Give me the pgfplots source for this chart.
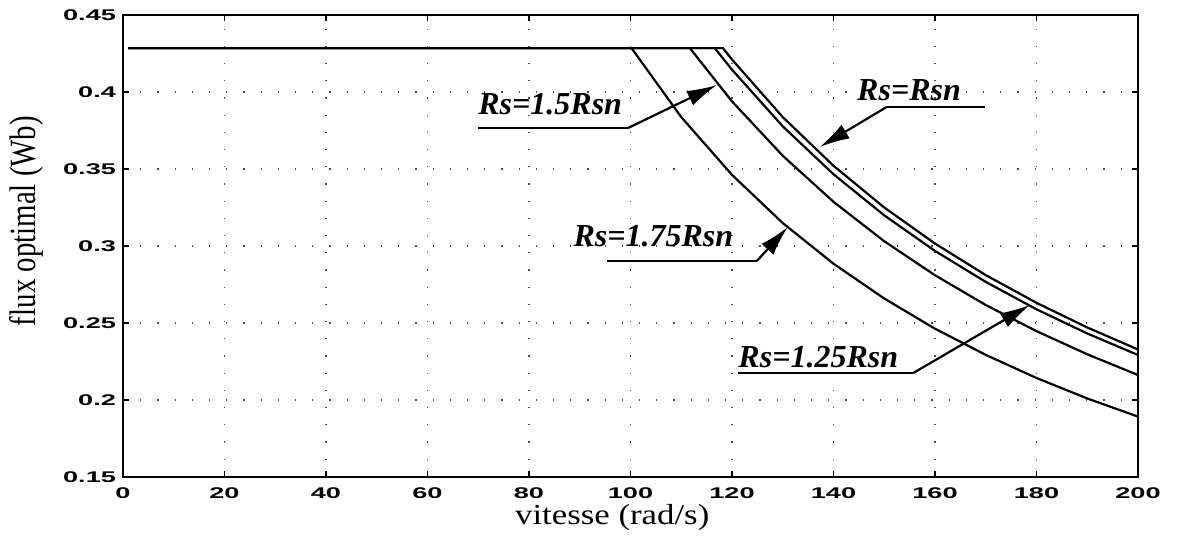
\documentclass[border=0pt]{standalone}
\usepackage{fontspec}
\setmainfont{Liberation Serif}
\newfontfamily\tickfont{Liberation Sans}[FakeStretch=1.75]
\newfontfamily\xlabfont{Liberation Serif}[FakeStretch=1.2]
\newfontfamily\ylabfont{Liberation Serif}[FakeStretch=0.78]
\usepackage{pgfplots}
\pgfplotsset{compat=1.18}
\usetikzlibrary{arrows.meta}

\begin{document}
\begin{tikzpicture}
\useasboundingbox (-61.5pt,-29.5pt) rectangle (527.5pt,238.5pt);
\begin{axis}[
    at={(0pt,0pt)}, anchor=south west,
    scale only axis, width=507.5pt, height=231pt,
    xmin=0, xmax=200, ymin=0.15, ymax=0.45,
    xtick={0,20,...,200},
    ytick={0.15,0.2,0.25,0.3,0.35,0.4,0.45},
    yticklabels={0.15,0.2,0.25,0.3,0.35,0.4,0.45},
    /pgf/number format/assume math mode=true,
    ticklabel style={font=\tickfont\bfseries\fontsize{7.75}{8}\selectfont},
    xticklabel style={yshift=-1.8pt},
    tick align=inside, major tick length=3pt,
    tick style={black, line width=0.8pt},
    axis line style={line width=1.2pt},
    grid=major,
    major grid style={black!70, line width=0.6pt, dash pattern=on 0.6pt off 8pt},
    xlabel={vitesse (rad/s)},
    xlabel style={font=\xlabfont\fontsize{14.5}{15}\selectfont, at={(axis description cs:0.482,-0.058)}, anchor=north, inner sep=0pt},
    ylabel={flux optimal (Wb)},
    ylabel style={font=\ylabfont\fontsize{18.5}{19}\selectfont, at={(axis description cs:-0.0956,0.554)}, anchor=center, inner sep=0pt},
    clip=false,
]
% Rs = Rsn
\addplot[black, line width=1.1pt] coordinates {
    (1,0.4285) (118.2,0.4285) (120,0.4211) (130,0.3837) (140,0.3521) (150,0.3250)
    (160,0.3016) (170,0.2811) (180,0.2631) (190,0.2471) (200,0.2328)
};
% Rs = 1.25 Rsn
\addplot[black, line width=1.1pt] coordinates {
    (1,0.4285) (116.6,0.4285) (120,0.4145) (130,0.3777) (140,0.3466) (150,0.3199)
    (160,0.2968) (170,0.2767) (180,0.2589) (190,0.2432) (200,0.2292)
};
% Rs = 1.5 Rsn
\addplot[black, line width=1.1pt] coordinates {
    (1,0.4285) (111.7,0.4285) (120,0.3939) (130,0.3586) (140,0.3287) (150,0.3031)
    (160,0.2810) (170,0.2617) (180,0.2447) (190,0.2297) (200,0.2162)
};
% Rs = 1.75 Rsn
\addplot[black, line width=1.1pt] coordinates {
    (1,0.4285) (100.2,0.4285) (110,0.3837) (120,0.3462) (130,0.3149) (140,0.2885)
    (150,0.2659) (160,0.2463) (170,0.2293) (180,0.2143) (190,0.2010) (200,0.1892)
};

\tikzset{lbl/.style={anchor=base west, inner sep=0pt, font=\bfseries\itshape\fontsize{16}{16}\selectfont},
         ld/.style={black, line width=1.1pt},
         la/.style={black, line width=1.1pt, -{Latex[length=15pt,width=8pt]}}}

\node[lbl] at (69.95,0.3851) {Rs=1.5Rsn};
\draw[ld] (69.95,0.3766) -- (99.5,0.3766);
\draw[la] (99.5,0.3766) -- (117.0,0.4045);

\node[lbl] at (144.6,0.3948) {Rs=Rsn};
\draw[ld] (150.5,0.3903) -- (169.9,0.3903);
\draw[la] (150.5,0.3903) -- (137.3,0.3643);

\node[lbl] at (88.7,0.2994) {Rs=1.75Rsn};
\draw[ld] (95.4,0.2903) -- (124.9,0.2903);
\draw[la] (124.9,0.2903) -- (131.0,0.3123);

\node[lbl] at (121.2,0.2208) {Rs=1.25Rsn};
\draw[ld] (121.2,0.2175) -- (155.7,0.2175);
\draw[la] (155.7,0.2175) -- (178.7,0.2617);
\end{axis}
\end{tikzpicture}
\end{document}
